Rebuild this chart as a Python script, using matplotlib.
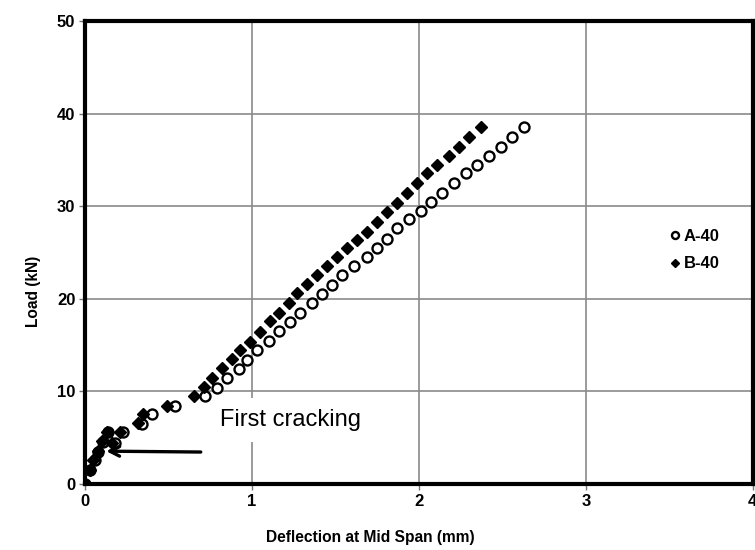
import numpy as np
import matplotlib
matplotlib.use("Agg")
import matplotlib.pyplot as plt

plt.rcParams['font.family'] = ['Liberation Sans', 'DejaVu Sans']

# A-40 (open circles): deflection (mm), load (kN)
a_defl = [0.00, 0.03, 0.06, 0.08, 0.11, 0.14, 0.18, 0.23, 0.34, 0.40, 0.54,
          0.72, 0.79, 0.85, 0.92, 0.97, 1.03, 1.10, 1.16, 1.23, 1.29, 1.36,
          1.42, 1.48, 1.54, 1.61, 1.69, 1.75, 1.81, 1.87, 1.94, 2.01, 2.07,
          2.14, 2.21, 2.28, 2.35, 2.42, 2.49, 2.56, 2.63]
a_load = [0.0, 1.5, 2.6, 3.5, 4.5, 5.6, 4.4, 5.6, 6.5, 7.6, 8.4,
          9.5, 10.4, 11.4, 12.4, 13.4, 14.5, 15.4, 16.5, 17.5, 18.5, 19.5,
          20.5, 21.5, 22.6, 23.5, 24.5, 25.5, 26.5, 27.6, 28.6, 29.5, 30.5,
          31.4, 32.5, 33.6, 34.5, 35.4, 36.4, 37.5, 38.5]

# B-40 (filled diamonds)
b_defl = [0.00, 0.03, 0.05, 0.08, 0.10, 0.13, 0.16, 0.21, 0.32, 0.35, 0.49,
          0.65, 0.71, 0.76, 0.82, 0.88, 0.93, 0.99, 1.05, 1.11, 1.16, 1.22,
          1.27, 1.33, 1.39, 1.45, 1.51, 1.57, 1.63, 1.69, 1.75, 1.81, 1.87,
          1.93, 1.99, 2.05, 2.11, 2.18, 2.24, 2.30, 2.37]
b_load = [0.0, 1.5, 2.6, 3.6, 4.6, 5.6, 4.4, 5.6, 6.6, 7.6, 8.4,
          9.5, 10.5, 11.5, 12.5, 13.5, 14.5, 15.3, 16.4, 17.6, 18.5, 19.5,
          20.6, 21.6, 22.6, 23.5, 24.5, 25.5, 26.4, 27.2, 28.3, 29.4, 30.4,
          31.4, 32.5, 33.6, 34.5, 35.4, 36.4, 37.5, 38.5]

fig = plt.figure(figsize=(7.55, 5.5), dpi=100, facecolor='w')
ax = fig.add_axes([0.1126, 0.12, 0.8844, 0.8418])

ax.plot(a_defl, a_load, 'o', ls='none', ms=7.2, mfc='white', mec='black',
        mew=1.7, label='A-40', zorder=3)
ax.plot(b_defl, b_load, 'D', ls='none', ms=6.3, mfc='black', mec='black',
        label='B-40', zorder=4)

ax.set_xlim(0, 4)
ax.set_ylim(0, 50)
ax.set_xticks([0, 1, 2, 3, 4])
ax.set_yticks([0, 10, 20, 30, 40, 50])
ax.grid(True, color='#8a8a8a', lw=1.2)
ax.set_axisbelow(True)

for s in ax.spines.values():
    s.set_linewidth(3)
    s.set_color('black')
ax.tick_params(direction='out', length=4, width=1, color='#777777',
               labelsize=12, pad=3)
for lab in ax.get_xticklabels() + ax.get_yticklabels():
    lab.set_fontweight('bold')

ax.set_xlabel('Deflection at Mid Span (mm)', fontsize=11.2, fontweight='bold')
ax.set_ylabel('Load (kN)', fontsize=11.2, fontweight='bold')
ax.xaxis.set_label_coords(0.427, -0.099)
ax.yaxis.set_label_coords(-0.066, 0.415)

leg = ax.legend(loc='center left', bbox_to_anchor=(0.855, 0.505), frameon=False,
                handlelength=0.5, handletextpad=0.25, markerscale=0.7,
                labelspacing=0.75, prop={'weight': 'bold', 'size': 12})

ax.text(0.81, 6.95, 'First cracking', fontsize=17, va='center', ha='left',
        bbox=dict(facecolor='white', edgecolor='none', pad=8), zorder=2)
ax.annotate('', xy=(0.11, 3.55), xytext=(0.71, 3.45),
            arrowprops=dict(arrowstyle='->,head_length=0.7,head_width=0.35',
                            color='black', lw=2.4), zorder=5)

fig.savefig('out.png', dpi=100)
